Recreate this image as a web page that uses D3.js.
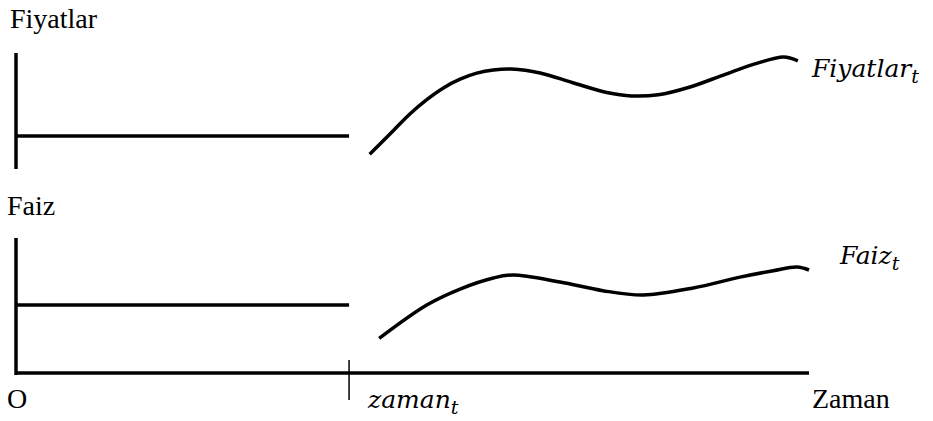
<!DOCTYPE html>
<html lang="tr">
<head>
  <meta charset="UTF-8">
  <title>Fiyatlar ve Faiz</title>
  <style>
  * { margin: 0; padding: 0; }
  body { background: #fff; }
  svg { display: block; }
  .roman { font-family: "Liberation Serif", "Times New Roman", serif; font-size: 28px; fill: #000; }
  .math { font-family: "DejaVu Serif", serif; font-style: italic; font-size: 25px; fill: #000; }
  </style>
  <script src="https://cdn.jsdelivr.net/npm/d3@7/dist/d3.min.js"></script>
</head>
<body>
<svg width="933" height="421" id="svg1"></svg>
<script>
// zaman ekseni 0..100
const zamanT = 42;          // kırılma anı
const fiyatSabit = 28.4;    // zaman_t öncesi fiyat seviyesi
const faizSabit = 50.4;     // zaman_t öncesi faiz seviyesi

// zaman_t sonrası fiyat eğrisi
const fiyatZaman = [44.6, 47.6, 49.7, 51.8, 53.9, 56.0, 58.1, 60.2, 62.5, 66.1, 70.2, 74.5, 77.6, 81.0, 85.0, 89.2, 93.4, 96.8, 98.6];
const fiyatDeger = [12.7, 33.2, 47.6, 59.8, 69.9, 77.4, 82.6, 85.4, 86.2, 82.8, 74.4, 66.0, 63.0, 64.0, 70.7, 81.0, 91.0, 96.5, 93.3];

// zaman_t sonrası faiz eğrisi
const faizZaman = [45.8, 51.8, 56.0, 60.2, 62.7, 68.6, 74.0, 79.1, 85.4, 91.3, 95.5, 98.5, 100];
const faizDeger = [25.7, 50.4, 62.2, 70.4, 72.6, 67.4, 61.0, 57.8, 63.0, 71.0, 75.8, 78.5, 76.3];

const svg = d3.select("#svg1");

const x = d3.scaleLinear().domain([0, 100]).range([16, 809]);
const yFiyat = d3.scaleLinear().domain([0, 100]).range([169, 53]);
const yFaiz = d3.scaleLinear().domain([0, 100]).range([373, 238]);

// eksenler
const g = svg.append("g").attr("stroke", "#000").attr("fill", "none");

g.append("line") // fiyat dikey ekseni
  .attr("x1", x(0)).attr("x2", x(0))
  .attr("y1", yFiyat(0)).attr("y2", yFiyat(100))
  .attr("stroke-width", 3.5);

g.append("line") // faiz dikey ekseni
  .attr("x1", x(0)).attr("x2", x(0))
  .attr("y1", yFaiz(0) + 2).attr("y2", yFaiz(100))
  .attr("stroke-width", 3.5);

g.append("line") // zaman ekseni
  .attr("x1", x(0)).attr("x2", x(100))
  .attr("y1", yFaiz(0)).attr("y2", yFaiz(0))
  .attr("stroke-width", 3.5);

g.append("line") // zaman_t işareti
  .attr("x1", x(zamanT)).attr("x2", x(zamanT))
  .attr("y1", yFaiz(0) - 13).attr("y2", yFaiz(0) + 27)
  .attr("stroke-width", 1.5);

// zaman_t öncesi sabit seviyeler
g.append("line")
  .attr("x1", x(0)).attr("x2", x(zamanT))
  .attr("y1", yFiyat(fiyatSabit)).attr("y2", yFiyat(fiyatSabit))
  .attr("stroke-width", 3.5);

g.append("line")
  .attr("x1", x(0)).attr("x2", x(zamanT))
  .attr("y1", yFaiz(faizSabit)).attr("y2", yFaiz(faizSabit))
  .attr("stroke-width", 3.5);

// eğriler
const fiyatLine = d3.line()
  .x((d, i) => x(fiyatZaman[i]))
  .y(d => yFiyat(d))
  .curve(d3.curveCatmullRom.alpha(0.5));

const faizLine = d3.line()
  .x((d, i) => x(faizZaman[i]))
  .y(d => yFaiz(d))
  .curve(d3.curveCatmullRom.alpha(0.5));

g.append("path").attr("d", fiyatLine(fiyatDeger)).attr("stroke-width", 3.5);
g.append("path").attr("d", faizLine(faizDeger)).attr("stroke-width", 3.5);

// yazılar
svg.append("text").attr("class", "roman").attr("x", 10).attr("y", 28).text("Fiyatlar");
svg.append("text").attr("class", "roman").attr("x", 7).attr("y", 215).text("Faiz");
svg.append("text").attr("class", "roman").attr("x", 7).attr("y", 408).text("O");
svg.append("text").attr("class", "roman").attr("x", x(100) + 3).attr("y", 408).text("Zaman");

function mathLabel (px, py, ana) {
  const t = svg.append("text").attr("class", "math").attr("x", px).attr("y", py);
  t.append("tspan").text(ana);
  t.append("tspan").attr("dy", 6).attr("font-size", 19).text("t");
}

mathLabel(812, 77, "Fiyatlar");
mathLabel(840, 264, "Faiz");
mathLabel(368, 408, "zaman");
</script>
</body>
</html>
